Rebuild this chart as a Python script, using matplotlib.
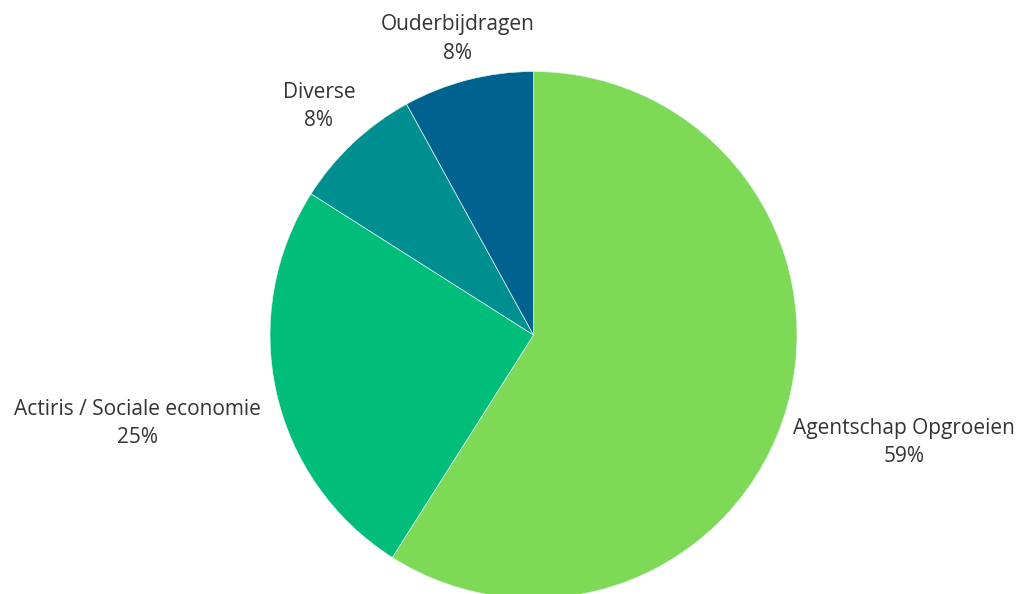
import numpy as np
import matplotlib.pyplot as plt

plt.rcParams["font.family"] = ["Open Sans", "DejaVu Sans"]

labels = ["Agentschap Opgroeien", "Actiris / Sociale economie", "Diverse", "Ouderbijdragen"]
shares = [59, 25, 8, 8]
colors = ["#7ED957", "#00BD79", "#008F91", "#00628F"]
label_dist = [1.465, 1.54, 1.19, 1.16]

fig = plt.figure(figsize=(10.23, 5.94), dpi=100)
ax = fig.add_axes([0, 0, 1, 1])

wedges, _ = ax.pie(shares, colors=colors, startangle=90, counterclock=False,
                   radius=1, wedgeprops=dict(edgecolor="#dff5ee", linewidth=0.5))

for w, name, pct, d in zip(wedges, labels, shares, label_dist):
    mid = np.deg2rad((w.theta1 + w.theta2) / 2)
    ax.text(d * np.cos(mid), d * np.sin(mid), f"{name}\n{pct}%",
            ha="center", va="center", fontsize=15, color="#333333",
            linespacing=1.45)

# map the pie into the same pixel box as the reference
R = 263.5
cx, cy = 533.5, 335
ax.set_aspect("auto")
ax.set_xlim(-cx / R, (1023 - cx) / R)
ax.set_ylim(-(594 - cy) / R, cy / R)
ax.axis("off")

fig.savefig("out.png", dpi=100, facecolor="white")
